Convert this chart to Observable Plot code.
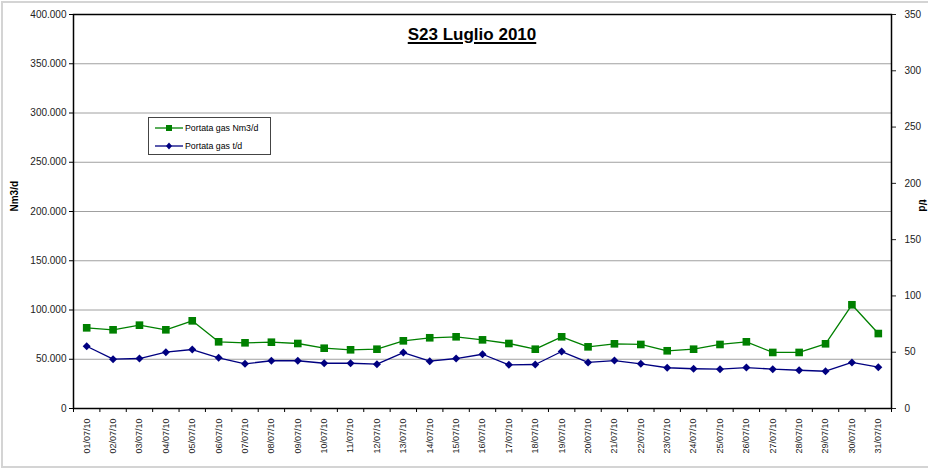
<!DOCTYPE html>
<html>
<head>
<meta charset="utf-8">
<script src="https://cdn.jsdelivr.net/npm/d3@7"></script>
<script src="https://cdn.jsdelivr.net/npm/@observablehq/plot@0.6"></script>
<style>
  body { margin: 0; background: #fff; font-family: Arial, "Liberation Sans", sans-serif; }
  #wrap { position: relative; width: 928px; height: 470px; }
  #border { position: absolute; left: 1px; top: 1px; width: 930px; height: 463px; border-left: 2px solid #d4d4d4; border-top: 2px solid #d4d4d4; border-bottom: 2px solid #d4d4d4; pointer-events: none; }
  #title { position: absolute; left: 372px; width: 200px; top: 25px; text-align: center; font: bold 17px Arial, "Liberation Sans", sans-serif; text-decoration: underline; text-decoration-thickness: 2px; text-underline-offset: 2px; }
  #legend { position: absolute; left: 148px; top: 117px; width: 121px; height: 36px; border: 1px solid #444; background: #fff; font: 8.8px Arial, "Liberation Sans", sans-serif; }
  .li { position: absolute; left: 6px; height: 12px; display: flex; align-items: center; }
  .li svg { margin-right: 2px; }
</style>
</head>
<body>
<div id="wrap">
  <div id="chart"></div>
  <div id="title">S23 Luglio 2010</div>
  <div id="legend"></div>
  <div id="border"></div>
</div>
<script>
const dates = ["01/07/10","02/07/10","03/07/10","04/07/10","05/07/10","06/07/10","07/07/10","08/07/10","09/07/10","10/07/10","11/07/10","12/07/10","13/07/10","14/07/10","15/07/10","16/07/10","17/07/10","18/07/10","19/07/10","20/07/10","21/07/10","22/07/10","23/07/10","24/07/10","25/07/10","26/07/10","27/07/10","28/07/10","29/07/10","30/07/10","31/07/10"];
const nm3d = [81900,79900,84600,79900,89000,67700,66700,67300,66000,61200,59600,60200,68700,71800,72800,69700,66000,60200,72800,62600,65700,65000,58600,60200,65000,67700,56900,56900,65700,105300,76100];
const td = [55.3,43.8,44.4,50.0,52.4,45.0,39.7,42.4,42.4,40.2,40.2,39.4,49.7,42.0,44.4,48.2,38.8,39.1,50.6,40.9,42.6,39.7,36.2,35.3,34.9,36.4,34.9,34.0,33.1,40.9,36.7];
const leftTicks = [0,50000,100000,150000,200000,250000,300000,350000,400000];
const rightTicks = [0,50,100,150,200,250,300,350];
const seriesNames = ["Portata gas Nm3/d", "Portata gas t/d"];

const k = 400000 / 350;
const green = "#008000", navy = "#000080";
const itFmt = d3.formatLocale({decimal: ",", thousands: ".", grouping: [3], currency: ["€", ""]}).format(",d");

const rowsA = dates.map((d, i) => ({i: i + 1, v: nm3d[i]}));
const rowsB = dates.map((d, i) => ({i: i + 1, v: td[i] * k}));
const idx = dates.map((d, i) => i + 1);
const bounds = d3.range(0.5, dates.length + 1, 1);

const chart = Plot.plot({
  width: 928,
  height: 470,
  marginLeft: 73,
  marginRight: 37,
  marginTop: 14,
  marginBottom: 62,
  style: {fontFamily: "Arial, 'Liberation Sans', sans-serif", background: "transparent"},
  x: {type: "linear", domain: [0.5, dates.length + 0.5]},
  y: {domain: [0, 400000]},
  marks: [
    Plot.gridY(leftTicks.slice(1, -1), {stroke: "#a0a0a0", strokeOpacity: 1, strokeWidth: 1}),
    Plot.axisY(leftTicks, {anchor: "left", tickFormat: itFmt, tickSize: 4, tickPadding: 3, fontSize: 10, label: null, stroke: "#000", color: "#222"}),
    Plot.axisY(rightTicks.map(v => v * k), {anchor: "right", tickFormat: d => String(Math.round(d / k)), tickSize: 4, tickPadding: 9, fontSize: 10, label: null, color: "#222"}),
    Plot.axisX(bounds, {anchor: "bottom", tickFormat: () => "", tickSize: 4, label: null}),
    Plot.axisX(idx, {anchor: "bottom", tickFormat: d => dates[d - 1], tickSize: 0, tickPadding: 10, tickRotate: -90, fontSize: 9, label: null, color: "#222"}),
    Plot.frame({stroke: "#000", strokeWidth: 1.5}),
    Plot.line(rowsA, {x: "i", y: "v", stroke: green, strokeWidth: 1.3}),
    Plot.dot(rowsA, {x: "i", y: "v", symbol: "square", r: 4.3, fill: green, stroke: "none"}),
    Plot.line(rowsB, {x: "i", y: "v", stroke: navy, strokeWidth: 1.3}),
    Plot.dot(rowsB, {x: "i", y: "v", symbol: "diamond2", r: 3.6, fill: navy, stroke: "none"}),
    Plot.text(["Nm3/d"], {frameAnchor: "left", dx: -59, rotate: -90, fontWeight: "bold", fontSize: 10, fill: "#000"}),
    Plot.text(["t/d"], {frameAnchor: "right", dx: 31, rotate: 90, fontWeight: "bold", fontSize: 10, fill: "#000"})
  ]
});
document.getElementById("chart").appendChild(chart);

const legend = document.getElementById("legend");
const items = [
  {name: seriesNames[0], color: green, sym: "square"},
  {name: seriesNames[1], color: navy, sym: "diamond"}
];
items.forEach((it, j) => {
  const div = document.createElement("div");
  div.className = "li";
  div.style.top = (j === 0 ? 4 : 22) + "px";
  const marker = it.sym === "square"
    ? `<rect x="11" y="3" width="6" height="6" fill="${it.color}"/>`
    : `<path d="M14,2.5 L17,6 L14,9.5 L11,6 Z" fill="${it.color}"/>`;
  div.innerHTML = `<svg width="28" height="12"><line x1="0" x2="28" y1="6" y2="6" stroke="${it.color}" stroke-width="1.3"/>${marker}</svg><span>${it.name}</span>`;
  legend.appendChild(div);
});
</script>
</body>
</html>
